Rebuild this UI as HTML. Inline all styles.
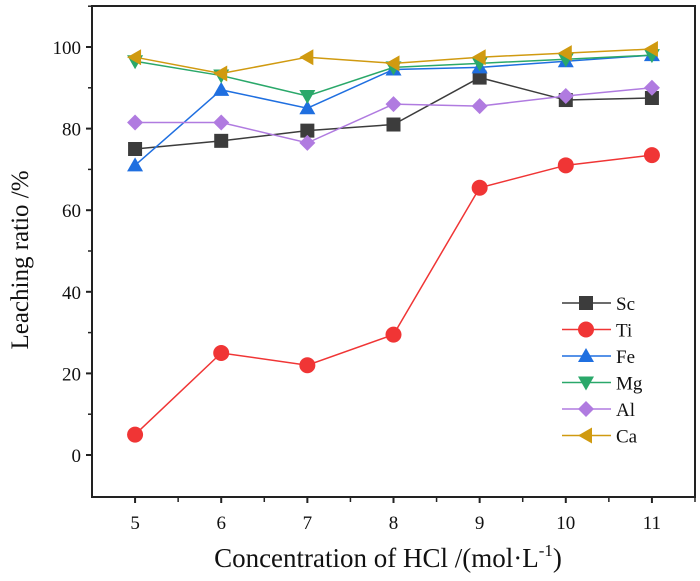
<!DOCTYPE html>
<html><head><meta charset="utf-8"><style>
html,body{margin:0;padding:0;background:#fff;}
svg text{font-family:"Liberation Serif",serif;fill:#111;}
</style></head><body>
<svg id="chart" width="700" height="576" viewBox="0 0 700 576">
<rect x="92" y="6" width="603" height="491" fill="none" stroke="#222" stroke-width="2"/>
<g id="axes"></g><g id="series"></g><g id="legend"></g>
<text x="388" y="567" font-size="27" text-anchor="middle">Concentration of HCl /(mol·L<tspan dy="-11" font-size="17">-1</tspan><tspan dy="11">)</tspan></text>
<text transform="translate(28,260) rotate(-90)" font-size="25" text-anchor="middle">Leaching ratio /%</text>
</svg>
<script>
const categories=[5,6,7,8,9,10,11];
const names=["Sc","Ti","Fe","Mg","Al","Ca"];
const sc=[75,77,79.5,81,92.5,87,87.5];
const ti=[5,25,22,29.5,65.5,71,73.5];
const fe=[71,89.5,85,94.5,95,96.5,98];
const mg=[96.5,93,88,95,96,97,98];
const al=[81.5,81.5,76.5,86,85.5,88,90];
const ca=[97.5,93.5,97.5,96,97.5,98.5,99.5];
const yTicks=[0,20,40,60,80,100];
const xTicks=[5,6,7,8,9,10,11];
const NS="http://www.w3.org/2000/svg";
const X=v=>92+(v-4.5)*(603/7);
const Y=v=>455-v*4.08;
function mk(t,a,p){const e=document.createElementNS(NS,t);for(const k in a)e.setAttribute(k,a[k]);p.appendChild(e);return e;}
const axes=document.getElementById('axes');
yTicks.forEach(v=>{const l=mk('line',{x1:92,x2:86,y1:Y(v),y2:Y(v),stroke:'#222','stroke-width':2},axes);


const m=mk('line',{x1:92,x2:88,y1:Y(v+10),y2:Y(v+10),stroke:'#222','stroke-width':1.5},axes);


const t=mk('text',{x:81,y:Y(v)+7,'font-size':19,'text-anchor':'end'},axes);t.textContent=v;

});
xTicks.forEach(v=>{const l=mk('line',{x1:X(v),x2:X(v),y1:497,y2:503,stroke:'#222','stroke-width':2},axes);


const m=mk('line',{x1:X(v+0.5),x2:X(v+0.5),y1:497,y2:502,stroke:'#222','stroke-width':1.5},axes);


const t=mk('text',{x:X(v),y:529,'font-size':19,'text-anchor':'middle'},axes);t.textContent=v;

});
const colors=["#3c3c3c","#f03535","#1f6fe0","#2aa86a","#b07be0","#d09a10"];
const shapes=["sq","ci","up","dn","di","le"];
const data=[sc,ti,fe,mg,al,ca];
function marker(shape,x,y,c,p){const r=8;let e;
if(shape=="sq")e=mk('rect',{x:x-r+1,y:y-r+1,width:2*r-2,height:2*r-2,fill:c},p);
else if(shape=="ci")e=mk('circle',{cx:x,cy:y,r:r,fill:c},p);
else{let pts;
if(shape=="up")pts=[[x,y-r],[x+r,y+r*0.75],[x-r,y+r*0.75]];
if(shape=="dn")pts=[[x,y+r],[x+r,y-r*0.75],[x-r,y-r*0.75]];
if(shape=="di")pts=[[x,y-r],[x+r,y],[x,y+r],[x-r,y]];
if(shape=="le")pts=[[x-r,y],[x+r*0.75,y-r],[x+r*0.75,y+r]];
e=mk('polygon',{points:pts.map(q=>q.join(',')).join(' '),fill:c},p);}
return e;}
const sg=document.getElementById('series');
data.forEach((arr,i)=>{const g=mk('g',{},sg);


const pl=mk('polyline',{points:arr.map((v,j)=>X(categories[j])+','+Y(v)).join(' '),fill:'none',stroke:colors[i],'stroke-width':1.5},g);


arr.forEach((v,j)=>{const m=marker(shapes[i],X(categories[j]),Y(v),colors[i],g);

});});
const lg=document.getElementById('legend');
names.forEach((n,i)=>{const y=303+i*26.5;const g=mk('g',{},lg);


mk('line',{x1:562,x2:611,y1:y,y2:y,stroke:colors[i],'stroke-width':1.5},g);
marker(shapes[i],586,y,colors[i],g);
const t=mk('text',{x:616,y:y+7,'font-size':19},g);t.textContent=n;});
</script>
</body></html>
